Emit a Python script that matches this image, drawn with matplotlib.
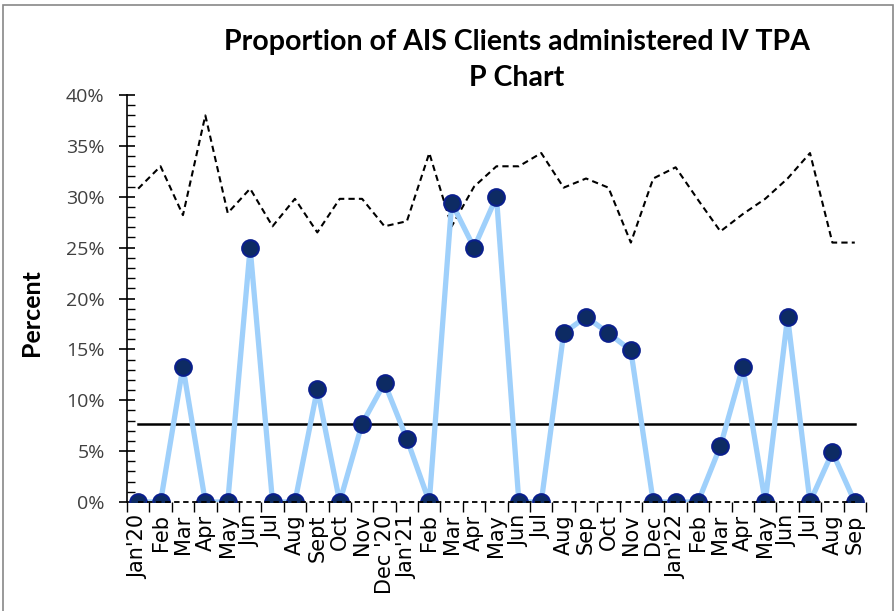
import matplotlib
matplotlib.use("Agg")
import matplotlib.pyplot as plt
from matplotlib.patches import Rectangle
from matplotlib.ticker import MultipleLocator, FuncFormatter

plt.rcParams["font.family"] = ["Open Sans", "DejaVu Sans"]

months = ["Jan'20", "Feb", "Mar", "Apr", "May", "Jun", "Jul", "Aug", "Sept", "Oct",
          "Nov", "Dec '20", "Jan'21", "Feb", "Mar", "Apr", "May", "Jun", "Jul", "Aug",
          "Sep", "Oct", "Nov", "Dec", "Jan'22", "Feb", "Mar", "Apr", "May", "Jun",
          "Jul", "Aug", "Sep"]
# proportion (%) per month
proportion = [0, 0, 13.3, 0, 0, 25.0, 0, 0, 11.1, 0,
              7.7, 11.7, 6.2, 0, 29.4, 25.0, 30.0, 0, 0, 16.6,
              18.2, 16.6, 14.9, 0, 0, 0, 5.5, 13.3, 0, 18.2,
              0, 4.9, 0]
ucl = [30.8, 33.0, 28.2, 38.0, 28.4, 30.8, 27.1, 29.8, 26.5, 29.8,
       29.8, 27.1, 27.6, 34.3, 27.1, 31.0, 33.0, 33.0, 34.3, 30.9,
       31.8, 30.9, 25.5, 31.8, 32.9, 29.7, 26.6, 28.3, 29.8, 31.8,
       34.3, 25.5, 25.5]
lcl = [0] * len(months)
center = [7.7] * len(months)

x = list(range(len(months)))

fig = plt.figure(figsize=(8.96, 6.11), dpi=100)
ax = fig.add_axes([0.1417, 0.1784, 0.8248, 0.666])

ax.plot(x, ucl, color="black", linestyle=(0, (3, 2)), linewidth=1.5, zorder=2)
ax.plot(x, center, color="black", linewidth=1.8, zorder=2)
ax.plot(x, proportion, color="#9fd0fb", linewidth=3.8, marker="o", markersize=12,
        markerfacecolor="#0d2b63", markeredgecolor="#0a1f8c", markeredgewidth=1.5, zorder=3)
ax.plot(x, lcl, color="black", linestyle=(0, (3, 2)), linewidth=1.3, zorder=4, clip_on=False)

ax.set_xlim(-0.5, len(months) - 0.5)
ax.set_ylim(0, 40)

ax.yaxis.set_major_locator(MultipleLocator(5))
ax.yaxis.set_minor_locator(MultipleLocator(1))
ax.yaxis.set_major_formatter(FuncFormatter(lambda v, p: "%d%%" % v))
ax.tick_params(axis="y", which="major", direction="inout", length=12, width=1.2,
               labelsize=14, pad=10, labelcolor="#404040")
ax.tick_params(axis="y", which="minor", direction="in", length=6, width=1.0)

ax.set_xticks([i - 0.5 for i in range(len(months) + 1)])
ax.set_xticklabels([])
ax.set_xticks(x, minor=True)
ax.set_xticklabels(months, minor=True, rotation=90, fontsize=15, family="DejaVu Sans")
ax.tick_params(axis="x", which="major", direction="out", length=7, width=1.0)
ax.tick_params(axis="x", which="minor", length=0, pad=9)

ax.spines["top"].set_visible(False)
ax.spines["right"].set_visible(False)
ax.spines["bottom"].set_visible(False)
ax.spines["left"].set_linewidth(1.2)

ax.set_ylabel("Percent", fontsize=18, fontweight="bold", family="Lato")
ax.yaxis.set_label_coords(-0.113, 0.465)

fig.text(0.577, 0.931, "Proportion of AIS Clients administered IV TPA", ha="center", va="center",
         fontsize=20.5, fontweight="bold", family="Lato")
fig.text(0.577, 0.872, "P Chart", ha="center", va="center",
         fontsize=20.5, fontweight="bold", family="Lato")

fig.patches.append(Rectangle((0.003, -0.01), 0.994, 1.002, transform=fig.transFigure,
                             fill=False, edgecolor="#888888", linewidth=1.2))

fig.savefig("out.png", dpi=100)
